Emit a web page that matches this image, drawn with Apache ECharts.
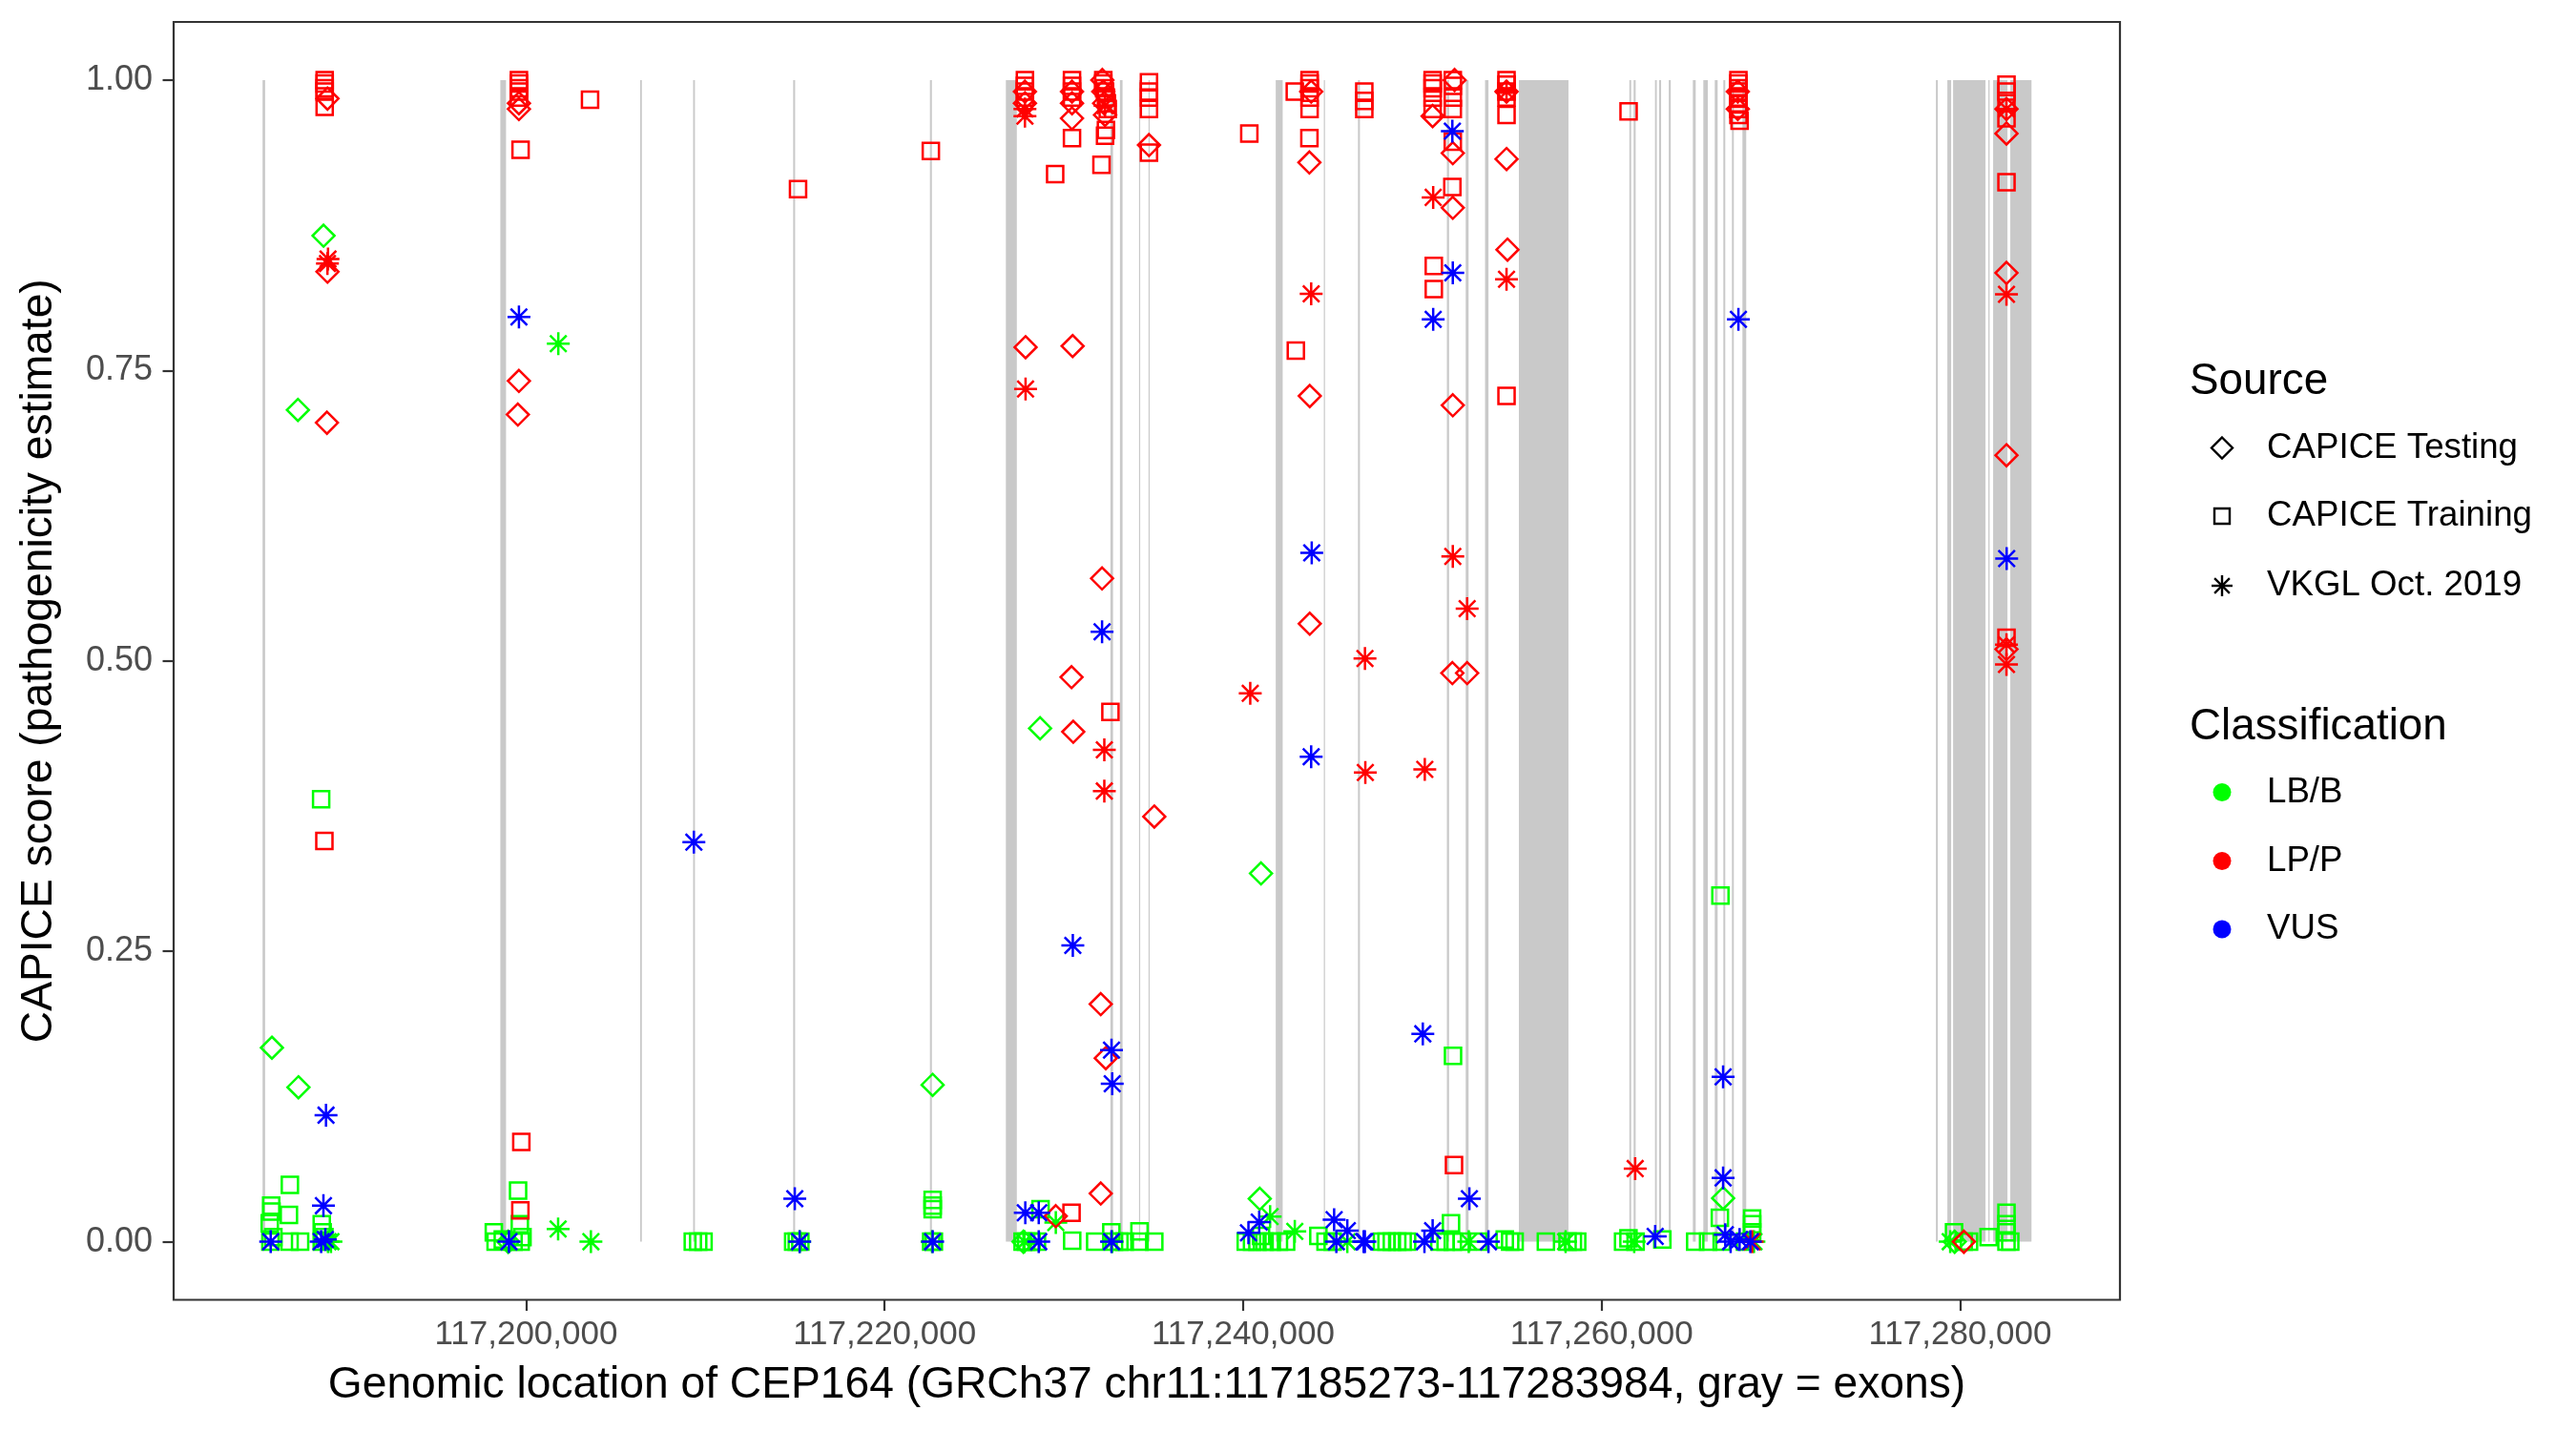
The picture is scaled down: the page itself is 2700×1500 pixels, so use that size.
<!DOCTYPE html>
<html>
<head>
<meta charset="utf-8">
<title>CEP164 CAPICE scores</title>
<script src="https://cdn.jsdelivr.net/npm/echarts@6.0.0/dist/echarts.min.js"></script>
<style>
  html, body { margin: 0; padding: 0; background: #fff; }
  #chart { width: 2700px; height: 1500px; }
</style>
</head>
<body>
<div id="chart"></div>
<script>
// gene region (GRCh37 chr11)
const geneStart = 117185273;
const geneEnd = 117283984;

const xTicks = [117200000, 117220000, 117240000, 117260000, 117280000];
const yTicks = [0, 0.25, 0.5, 0.75, 1];

// exons, drawn as gray bands
const exonStart = [117185300, 117198563, 117206360, 117209320, 117214900, 117222530, 117226766,
  117232600, 117233130, 117234195, 117234727, 117241821, 117244505, 117246410, 117251370,
  117252420, 117253500, 117255387, 117261550, 117261790, 117262980, 117263210, 117263750,
  117265092, 117265677, 117266315, 117266794, 117267273, 117267858, 117278653, 117279291,
  117279610, 117281579, 117281845, 117282802];
const exonEnd = [117185440, 117198882, 117206460, 117209420, 117215010, 117222640, 117227378,
  117232745, 117233275, 117234248, 117234780, 117242209, 117244560, 117246520, 117251490,
  117252580, 117253690, 117258152, 117261650, 117261900, 117263080, 117263320, 117263860,
  117265252, 117265927, 117266475, 117266900, 117267379, 117268070, 117278760, 117279503,
  117281419, 117281648, 117282643, 117283984];

// [position, CAPICE score]
const testingLB = [[117185820, 0.167], [117187300, 0.133], [117187270, 0.716], [117188700, 0.866],
  [117199000, 0.0], [117222680, 0.135], [117227750, 0.0], [117228675, 0.442], [117241000, 0.317],
  [117240930, 0.037], [117266780, 0.0375], [117279700, 0.0]];

const trainingLB = [[117188566, 0.381], [117186822, 0.049], [117185779, 0.031], [117185800, 0.026],
  [117186769, 0.023], [117185700, 0.016], [117185736, 0.0], [117186805, 0.0], [117187392, 0.0],
  [117188600, 0.015], [117188650, 0.008], [117188600, 0.0], [117188750, 0.004], [117185900, 0.004],
  [117199553, 0.044], [117199650, 0.015], [117198200, 0.008], [117198300, 0.0], [117198700, 0.002],
  [117199300, 0.0], [117199700, 0.0], [117199800, 0.004], [117209300, 0.0], [117209600, 0.0],
  [117209900, 0.0], [117214900, 0.0], [117215100, 0.0], [117215300, 0.0], [117222682, 0.036],
  [117222682, 0.031], [117222682, 0.028], [117222600, 0.0], [117222750, 0.0], [117228700, 0.028],
  [117227700, 0.0], [117227900, 0.0], [117228200, 0.0], [117228500, 0.0], [117230467, 0.001],
  [117231750, 0.0], [117232650, 0.008], [117232800, 0.0], [117233100, 0.0], [117233400, 0.0],
  [117234220, 0.009], [117234220, 0.0], [117235046, 0.0], [117240150, 0.0], [117240500, 0.0],
  [117240800, 0.0], [117241200, 0.0], [117241600, 0.0], [117242000, 0.0], [117242400, 0.0],
  [117241000, 0.005], [117244200, 0.005], [117244600, 0.0], [117245000, 0.0], [117247750, 0.0],
  [117248000, 0.0], [117248300, 0.0], [117248600, 0.0], [117248900, 0.0], [117249150, 0.0],
  [117251712, 0.160], [117251600, 0.016], [117250950, 0.0], [117251300, 0.0], [117251700, 0.0],
  [117252200, 0.0], [117253120, 0.0], [117254600, 0.002], [117254900, 0.0], [117255150, 0.0],
  [117256893, 0.0], [117258100, 0.0], [117258400, 0.0], [117258640, 0.0], [117261200, 0.0],
  [117261500, 0.003], [117261900, 0.0], [117263390, 0.002], [117265224, 0.0], [117265943, 0.0],
  [117266630, 0.298], [117266600, 0.0206], [117268400, 0.020], [117268400, 0.015], [117268400, 0.008],
  [117266700, 0.0], [117268000, 0.0], [117279663, 0.008], [117280200, 0.0], [117280500, 0.0],
  [117281590, 0.004], [117282589, 0.025], [117282589, 0.015], [117282589, 0.008], [117282589, 0.0],
  [117282800, 0.0]];

const vkglLB = [[117189114, 0.0], [117188950, 0.0], [117201797, 0.773], [117201787, 0.011],
  [117203616, 0.0], [117215263, 0.0], [117222650, 0.0], [117229552, 0.0165], [117227800, 0.0],
  [117232700, 0.0], [117241508, 0.0216], [117242885, 0.009], [117245815, 0.0], [117252590, 0.0],
  [117257994, 0.0], [117261820, 0.0], [117268500, 0.0], [117279450, 0.0]];

const testingLP = [[117188920, 0.984], [117188920, 0.835], [117188890, 0.705], [117199600, 0.980],
  [117199600, 0.975], [117199600, 0.741], [117199540, 0.712], [117227830, 0.990], [117227830, 0.980],
  [117227865, 0.770], [117229550, 0.022], [117230456, 0.990], [117230456, 0.980], [117230456, 0.967],
  [117230490, 0.771], [117230430, 0.486], [117230525, 0.439], [117232150, 1.0], [117232200, 0.990],
  [117232250, 0.980], [117232300, 0.970], [117232133, 0.571], [117232060, 0.2045], [117232340, 0.158],
  [117232060, 0.0415], [117235046, 0.366], [117234750, 0.944], [117243700, 0.929], [117243720, 0.728],
  [117243720, 0.532], [117243800, 0.990], [117250575, 0.969], [117251700, 0.937], [117251700, 0.890],
  [117251700, 0.720], [117251675, 0.4895], [117252500, 0.4895], [117254697, 0.932], [117254750, 0.854],
  [117254697, 0.990], [117251800, 1.0], [117267600, 0.990], [117267600, 0.975], [117280212, 0.0],
  [117282589, 0.975], [117282589, 0.954], [117282589, 0.834], [117282589, 0.677], [117282589, 0.510]];

const trainingLP = [[117188763, 1.0], [117188763, 0.997], [117188763, 0.993], [117188763, 0.990],
  [117188763, 0.977], [117188747, 0.345], [117199601, 1.0], [117199601, 0.997], [117199601, 0.993],
  [117199601, 0.990], [117199601, 0.985], [117203568, 0.983], [117199692, 0.940], [117199734, 0.086],
  [117199680, 0.027], [117215172, 0.906], [117222580, 0.939], [117227830, 1.0], [117227830, 0.995],
  [117227830, 0.990], [117227830, 0.985], [117230430, 0.025], [117229516, 0.919], [117230456, 1.0],
  [117230456, 0.995], [117230456, 0.990], [117230456, 0.985], [117230456, 0.950], [117232200, 1.0],
  [117232200, 0.997], [117232250, 0.993], [117232300, 0.990], [117232350, 0.985], [117232400, 0.980],
  [117232450, 0.975], [117232350, 0.957], [117232300, 0.952], [117232100, 0.927], [117232600, 0.456],
  [117234750, 0.998], [117234750, 0.990], [117234750, 0.985], [117234750, 0.975], [117234750, 0.9375],
  [117240347, 0.954], [117242885, 0.990], [117243710, 1.0], [117243710, 0.997], [117243710, 0.993],
  [117243710, 0.985], [117243710, 0.975], [117243700, 0.950], [117242944, 0.767], [117246762, 0.990],
  [117246762, 0.982], [117246762, 0.975], [117250575, 1.0], [117250575, 0.997], [117250575, 0.993],
  [117250575, 0.985], [117250575, 0.975], [117250640, 0.840], [117250640, 0.820], [117251700, 1.0],
  [117251700, 0.995], [117251700, 0.985], [117251700, 0.975], [117251700, 0.947], [117251675, 0.908],
  [117251767, 0.066], [117254697, 1.0], [117254697, 0.996], [117254697, 0.990], [117254697, 0.985],
  [117254697, 0.970], [117254697, 0.728], [117261507, 0.973], [117267634, 1.0], [117267634, 0.997],
  [117267634, 0.993], [117267634, 0.990], [117267634, 0.985], [117267634, 0.980], [117267634, 0.975],
  [117267634, 0.970], [117267700, 0.965], [117282589, 0.996], [117282589, 0.990], [117282589, 0.980],
  [117282589, 0.967], [117282589, 0.912], [117282589, 0.520]];

const vkglLP = [[117188918, 0.842], [117188950, 0.846], [117227830, 0.975], [117227830, 0.969],
  [117227865, 0.734], [117232259, 0.4235], [117232259, 0.388], [117232300, 0.978], [117240400, 0.472],
  [117243799, 0.816], [117246800, 0.502], [117246820, 0.404], [117250137, 0.4066], [117250606, 0.899],
  [117251700, 0.590], [117252500, 0.545], [117254697, 0.8285], [117254697, 0.990], [117261875, 0.063],
  [117268400, 0.0], [117282589, 0.8155], [117282589, 0.514], [117282589, 0.497], [117282589, 0.975]];

const vkglVUS = [[117188838, 0.109], [117188694, 0.031], [117185752, 0.0], [117188566, 0.0],
  [117188800, 0.002], [117199601, 0.796], [117199043, 0.0], [117209360, 0.344], [117214991, 0.037],
  [117215263, 0.0], [117222682, 0.0], [117227850, 0.025], [117228600, 0.025], [117228600, 0.0],
  [117232133, 0.525], [117230501, 0.255], [117232660, 0.165], [117232700, 0.136], [117232660, 0.0],
  [117243830, 0.593], [117243799, 0.4175], [117240300, 0.0077], [117240900, 0.017], [117245080, 0.019],
  [117245815, 0.0095], [117246794, 0.0], [117245203, 0.0], [117246727, 0.0], [117250118, 0.0],
  [117251675, 0.956], [117251700, 0.834], [117250606, 0.794], [117250027, 0.179], [117252625, 0.037],
  [117250575, 0.0095], [117253690, 0.0], [117262991, 0.0046], [117267634, 0.794], [117266780, 0.142],
  [117266780, 0.055], [117266900, 0.006], [117267200, 0.0], [117267700, 0.002], [117268300, 0.0],
  [117282600, 0.588]];

const FONT = '"Liberation Sans", Arial, sans-serif';
const colors = { lb: '#00ff00', lp: '#ff0000', vus: '#0000ff' };
const STAR = 'path://M0,-1L0,1M-1,0L1,0M-0.72,-0.72L0.72,0.72M-0.72,0.72L0.72,-0.72';
const shapes = {
  testing: { symbol: 'diamond', size: 23 },
  training: { symbol: 'rect', size: 17 },
  vkgl: { symbol: STAR, size: 24 }
};

function pointSeries(data, source, cls) {
  return {
    type: 'scatter',
    data: data,
    symbol: shapes[source].symbol,
    symbolSize: shapes[source].size,
    itemStyle: { color: 'rgba(0,0,0,0)', borderColor: colors[cls], borderWidth: 2.5, opacity: 1 },
    z: 3,
    silent: true
  };
}

const exons = exonStart.map((s, i) => [s, exonEnd[i]]);
const span = geneEnd - geneStart;

const chart = echarts.init(document.getElementById('chart'));

// legend drawn by hand: shape key and colour key
const legendX = 2329;
const textX = 2376;
function starLines(cx, cy, r) {
  const d = r * 0.72;
  return [[0, -r, 0, r], [-r, 0, r, 0], [-d, -d, d, d], [-d, d, d, -d]].map(l => ({
    type: 'line',
    shape: { x1: cx + l[0], y1: cy + l[1], x2: cx + l[2], y2: cy + l[3] },
    style: { stroke: '#000', lineWidth: 2.4 }
  }));
}
function legendText(txt, y, size) {
  return {
    type: 'text', x: size > 40 ? 2295 : textX, y: y,
    style: { text: txt, font: size + 'px ' + FONT, fill: '#000', textVerticalAlign: 'middle' }
  };
}

const graphics = [
  legendText('Source', 400, 45.8),
  {
    type: 'polygon',
    shape: { points: [[legendX, 458.5], [legendX + 11, 469.5], [legendX, 480.5], [legendX - 11, 469.5]] },
    style: { fill: 'none', stroke: '#000', lineWidth: 2.4 }
  },
  legendText('CAPICE Testing', 469.5, 36.7),
  {
    type: 'rect', shape: { x: legendX - 8, y: 533, width: 16, height: 16 },
    style: { fill: 'none', stroke: '#000', lineWidth: 2.4 }
  },
  legendText('CAPICE Training', 541, 36.7),
  ...starLines(legendX, 614, 11),
  legendText('VKGL Oct. 2019', 614, 36.7),
  legendText('Classification', 762, 45.8),
  { type: 'circle', shape: { cx: legendX, cy: 830.5, r: 9.5 }, style: { fill: colors.lb } },
  legendText('LB/B', 830.5, 36.7),
  { type: 'circle', shape: { cx: legendX, cy: 902.5, r: 9.5 }, style: { fill: colors.lp } },
  legendText('LP/P', 902.5, 36.7),
  { type: 'circle', shape: { cx: legendX, cy: 974, r: 9.5 }, style: { fill: colors.vus } },
  legendText('VUS', 974, 36.7)
];

chart.setOption({
  animation: false,
  backgroundColor: '#ffffff',
  textStyle: { fontFamily: FONT },
  grid: {
    left: 182, right: 478, top: 23, bottom: 137.5,
    show: true, borderColor: '#333333', borderWidth: 2.2, backgroundColor: '#ffffff'
  },
  xAxis: {
    type: 'value',
    min: geneStart - 0.05 * span,
    max: geneEnd + 0.05 * span,
    splitLine: { show: false },
    axisLine: { show: false, onZero: false },
    axisTick: { show: true, length: 11.5, customValues: xTicks, lineStyle: { color: '#333333', width: 2.2 } },
    axisLabel: {
      customValues: xTicks,
      formatter: v => Number(v).toLocaleString('en-US'),
      color: '#4d4d4d', fontSize: 35, fontFamily: FONT, margin: 19
    },
    name: 'Genomic location of CEP164 (GRCh37 chr11:117185273-117283984, gray = exons)',
    nameLocation: 'middle',
    nameGap: 67,
    nameTextStyle: { fontSize: 46.2, color: '#000', fontFamily: FONT }
  },
  yAxis: {
    type: 'value',
    min: -0.05,
    max: 1.05,
    splitLine: { show: false },
    axisLine: { show: false, onZero: false },
    axisTick: { show: true, length: 11.5, customValues: yTicks, lineStyle: { color: '#333333', width: 2.2 } },
    axisLabel: {
      customValues: yTicks,
      formatter: v => Number(v).toFixed(2),
      color: '#4d4d4d', fontSize: 36, fontFamily: FONT, margin: 22
    },
    name: 'CAPICE score (pathogenicity estimate)',
    nameLocation: 'middle',
    nameGap: 118,
    nameTextStyle: { fontSize: 46.2, color: '#000', fontFamily: FONT }
  },
  graphic: graphics,
  series: [
    {
      type: 'custom',
      data: exons,
      encode: { x: [0, 1] },
      silent: true,
      z: 1,
      renderItem: function (params, api) {
        const top = api.coord([api.value(0), 1]);
        const bot = api.coord([api.value(1), 0]);
        return {
          type: 'rect',
          shape: { x: top[0], y: top[1], width: Math.max(bot[0] - top[0], 1.2), height: bot[1] - top[1] },
          style: { fill: '#c9c9c9' }
        };
      }
    },
    pointSeries(testingLB, 'testing', 'lb'),
    pointSeries(trainingLB, 'training', 'lb'),
    pointSeries(vkglLB, 'vkgl', 'lb'),
    pointSeries(testingLP, 'testing', 'lp'),
    pointSeries(trainingLP, 'training', 'lp'),
    pointSeries(vkglLP, 'vkgl', 'lp'),
    pointSeries(vkglVUS, 'vkgl', 'vus')
  ]
});
</script>
</body>
</html>
